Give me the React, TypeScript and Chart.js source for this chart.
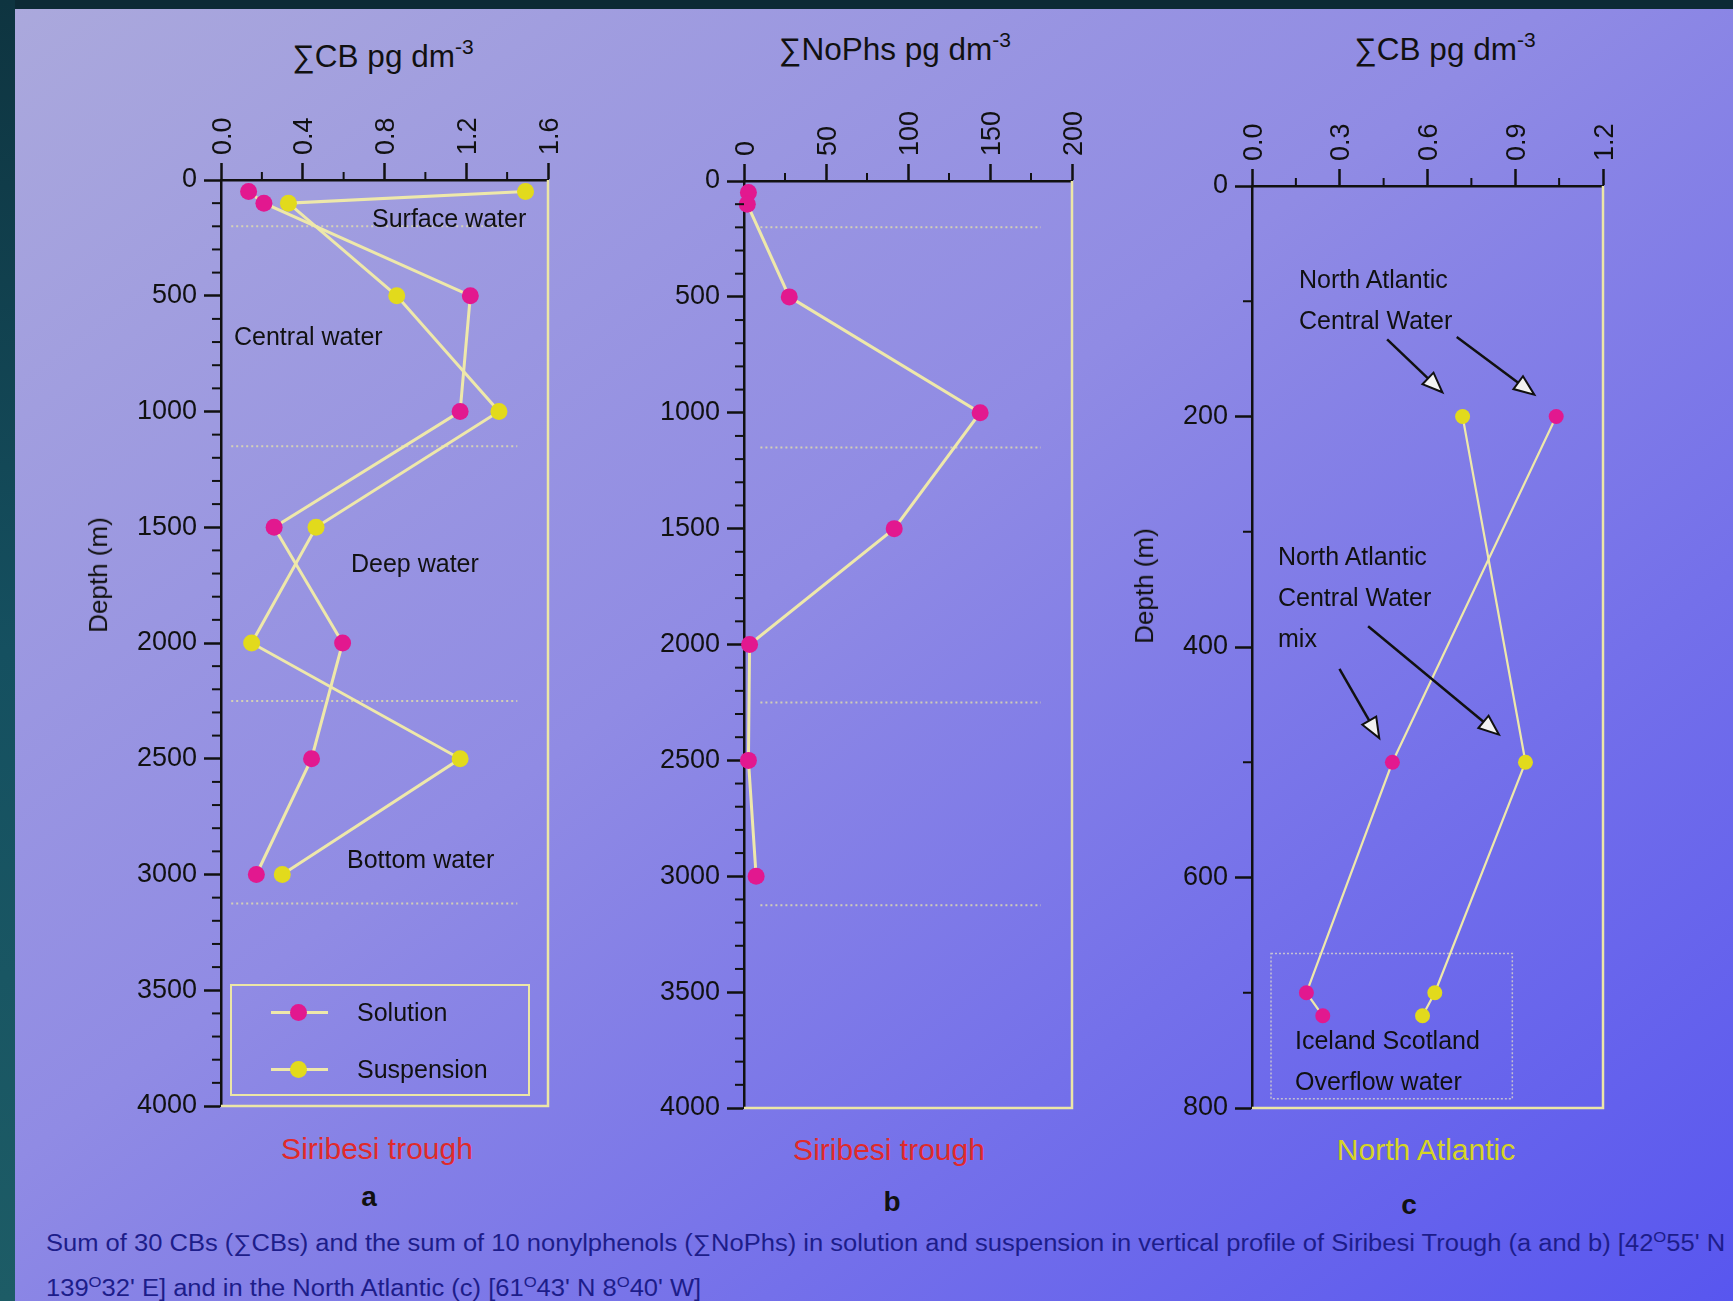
import React, { useEffect, useRef } from "react";
import { Chart, registerables } from "chart.js";

Chart.register(...registerables);

const FONT = '"Liberation Sans", Arial, Helvetica, sans-serif';
const SOLUTION_COLOR = "#e2188f";
const SUSPENSION_COLOR = "#e2da1c";
const LINE_COLOR = "#eee8aa";
const FRAME_COLOR = "#ece6a6";
const AXIS_COLOR = "#111111";
const TICK_FONT_SIZE = 27;

// ---------- Panel a : ΣCB, Siribesi trough ----------
const depthA = [50, 100, 500, 1000, 1500, 2000, 2500, 3000];
const cbSolutionA = [0.135, 0.21, 1.22, 1.17, 0.26, 0.595, 0.443, 0.173];
const cbSuspensionA = [1.49, 0.33, 0.86, 1.36, 0.465, 0.15, 1.17, 0.3];

// ---------- Panel b : ΣNoPhs, Siribesi trough ----------
const depthB = [50, 100, 500, 1000, 1500, 2000, 2500, 3000];
const nophSolutionB = [2.7, 2, 27.6, 144, 91.6, 3.4, 2.7, 7.4];

// ---------- Panel c : ΣCB, North Atlantic ----------
const depthC = [200, 500, 700, 720];
const cbSolutionC = [1.04, 0.48, 0.186, 0.242];
const cbSuspensionC = [0.72, 0.935, 0.625, 0.583];

// water mass boundaries (depth, m) drawn as dotted lines in a and b
const waterMassBoundaries = [200, 1150, 2250, 3125];
// Iceland Scotland Overflow water box in c: [x0, x1, depth0, depth1]
const overflowBoxC = [0.065, 0.89, 666, 792];
// annotation arrows in c: [xFrom, depthFrom, xTo, depthTo]
const arrowsC = [
  [0.462, 133, 0.651, 179],
  [0.7, 131, 0.965, 181],
  [0.299, 419, 0.435, 479],
  [0.397, 382, 0.844, 476],
];

const LEFT_W = 110;
const TOP_H = 100;
const PAD_R = 24;
const PAD_B = 24;
const TICK_LEN = 17;

type Series = { x: number[]; y: number[]; color: string };
type Panel = {
  left: number;
  top: number;
  width: number;
  height: number;
  xMax: number;
  xStep: number;
  xDecimals: number;
  yMax: number;
  yStep: number;
  yMinor: number;
  series: Series[];
  lineWidth: number;
  radius: number;
  separators?: { values: number[]; x0: number; x1: number };
  box?: number[];
  arrows?: number[][];
};

const panels: Panel[] = [
  {
    left: 221, top: 180, width: 327, height: 926,
    xMax: 1.6, xStep: 0.4, xDecimals: 1,
    yMax: 4000, yStep: 500, yMinor: 100,
    series: [
      { x: cbSolutionA, y: depthA, color: SOLUTION_COLOR },
      { x: cbSuspensionA, y: depthA, color: SUSPENSION_COLOR },
    ],
    lineWidth: 3, radius: 8.5,
    separators: { values: waterMassBoundaries, x0: 0.05, x1: 1.45 },
  },
  {
    left: 744, top: 181, width: 328, height: 927,
    xMax: 200, xStep: 50, xDecimals: 0,
    yMax: 4000, yStep: 500, yMinor: 100,
    series: [{ x: nophSolutionB, y: depthB, color: SOLUTION_COLOR }],
    lineWidth: 3, radius: 8.5,
    separators: { values: waterMassBoundaries, x0: 10, x1: 181 },
  },
  {
    left: 1252, top: 186, width: 351, height: 922,
    xMax: 1.2, xStep: 0.3, xDecimals: 1,
    yMax: 800, yStep: 200, yMinor: 100,
    series: [
      { x: cbSolutionC, y: depthC, color: SOLUTION_COLOR },
      { x: cbSuspensionC, y: depthC, color: SUSPENSION_COLOR },
    ],
    lineWidth: 2.2, radius: 7.5,
    box: overflowBoxC,
    arrows: arrowsC,
  },
];

function isMajor(v: number, step: number) {
  const r = v / step;
  return Math.abs(r - Math.round(r)) < 1e-6;
}

function decorPlugin(p: Panel) {
  return {
    id: "decor",
    beforeDatasetsDraw(chart: any) {
      const { ctx, chartArea: a, scales } = chart;
      const xs = scales.x;
      const ys = scales.y;
      ctx.save();
      if (p.separators) {
        ctx.strokeStyle = "rgba(222,218,175,0.85)";
        ctx.lineWidth = 2;
        ctx.setLineDash([2, 3]);
        for (const v of p.separators.values) {
          const y = ys.getPixelForValue(v);
          ctx.beginPath();
          ctx.moveTo(xs.getPixelForValue(p.separators.x0), y);
          ctx.lineTo(xs.getPixelForValue(p.separators.x1), y);
          ctx.stroke();
        }
        ctx.setLineDash([]);
      }
      if (p.box) {
        const [x0, x1, d0, d1] = p.box;
        ctx.strokeStyle = "rgba(225,222,200,0.75)";
        ctx.lineWidth = 1.5;
        ctx.setLineDash([2, 2]);
        const px0 = xs.getPixelForValue(x0);
        const px1 = xs.getPixelForValue(x1);
        const py0 = ys.getPixelForValue(d0);
        const py1 = ys.getPixelForValue(d1);
        ctx.strokeRect(px0, py0, px1 - px0, py1 - py0);
        ctx.setLineDash([]);
      }
      ctx.strokeStyle = FRAME_COLOR;
      ctx.lineWidth = 2.5;
      ctx.beginPath();
      ctx.moveTo(a.right, a.top);
      ctx.lineTo(a.right, a.bottom);
      ctx.lineTo(a.left, a.bottom);
      ctx.stroke();
      ctx.restore();
    },
    afterDatasetsDraw(chart: any) {
      if (!p.arrows) return;
      const { ctx, scales } = chart;
      const xs = scales.x;
      const ys = scales.y;
      ctx.save();
      for (const [xa, ya, xb, yb] of p.arrows) {
        const x0 = xs.getPixelForValue(xa);
        const y0 = ys.getPixelForValue(ya);
        const x1 = xs.getPixelForValue(xb);
        const y1 = ys.getPixelForValue(yb);
        const ang = Math.atan2(y1 - y0, x1 - x0);
        const L = 20;
        const W = 8;
        const bx = x1 - L * Math.cos(ang);
        const by = y1 - L * Math.sin(ang);
        ctx.strokeStyle = "#111";
        ctx.lineWidth = 2.5;
        ctx.beginPath();
        ctx.moveTo(x0, y0);
        ctx.lineTo(bx, by);
        ctx.stroke();
        ctx.beginPath();
        ctx.moveTo(x1, y1);
        ctx.lineTo(bx + W * Math.sin(ang), by - W * Math.cos(ang));
        ctx.lineTo(bx - W * Math.sin(ang), by + W * Math.cos(ang));
        ctx.closePath();
        ctx.fillStyle = "#f2f2f2";
        ctx.fill();
        ctx.lineWidth = 2;
        ctx.stroke();
      }
      ctx.restore();
    },
    afterDraw(chart: any) {
      const { ctx, chartArea: a, scales } = chart;
      const xs = scales.x;
      const ys = scales.y;
      ctx.save();
      // minor ticks
      ctx.strokeStyle = AXIS_COLOR;
      ctx.lineWidth = 2;
      for (let v = p.yMinor; v < p.yMax; v += p.yMinor) {
        if (isMajor(v, p.yStep)) continue;
        const y = ys.getPixelForValue(v);
        ctx.beginPath();
        ctx.moveTo(a.left - 9, y);
        ctx.lineTo(a.left, y);
        ctx.stroke();
      }
      for (let v = p.xStep / 2; v < p.xMax; v += p.xStep) {
        const x = xs.getPixelForValue(v);
        ctx.beginPath();
        ctx.moveTo(x, a.top - 8);
        ctx.lineTo(x, a.top);
        ctx.stroke();
      }
      // rotated top tick labels, centred on their ticks
      ctx.fillStyle = "#111";
      ctx.font = `${TICK_FONT_SIZE}px ${FONT}`;
      ctx.textAlign = "left";
      ctx.textBaseline = "alphabetic";
      for (const t of xs.ticks) {
        const x = xs.getPixelForValue(t.value);
        ctx.save();
        ctx.translate(x, a.top - TICK_LEN - 8);
        ctx.rotate(-Math.PI / 2);
        ctx.fillText(Number(t.value).toFixed(p.xDecimals), 0, 0.358 * TICK_FONT_SIZE);
        ctx.restore();
      }
      ctx.restore();
    },
  };
}

function buildConfig(p: Panel): any {
  const lineSets = p.series.map((s) => ({
    data: s.x.map((v, i) => ({ x: v, y: s.y[i] })),
    showLine: true,
    borderColor: LINE_COLOR,
    borderWidth: p.lineWidth,
    pointRadius: 0,
    order: 2,
    clip: false,
  }));
  const pointSets = p.series.map((s) => ({
    data: s.x.map((v, i) => ({ x: v, y: s.y[i] })),
    showLine: false,
    pointRadius: p.radius,
    pointBackgroundColor: s.color,
    pointBorderColor: s.color,
    pointBorderWidth: 0,
    order: 1,
    clip: false,
  }));
  const tickFont = { family: FONT, size: TICK_FONT_SIZE };
  const grid = {
    drawOnChartArea: false,
    drawTicks: true,
    tickLength: TICK_LEN,
    tickColor: AXIS_COLOR,
    tickWidth: 2.5,
    color: AXIS_COLOR,
  };
  const border = { display: true, color: AXIS_COLOR, width: 2.5 };
  return {
    type: "scatter",
    data: { datasets: [...lineSets, ...pointSets] },
    options: {
      animation: false,
      responsive: false,
      maintainAspectRatio: false,
      events: [],
      layout: { padding: { left: 0, top: 0, right: PAD_R, bottom: PAD_B } },
      plugins: { legend: { display: false }, tooltip: { enabled: false } },
      scales: {
        x: {
          type: "linear",
          position: "top",
          min: 0,
          max: p.xMax,
          ticks: {
            display: false,
            stepSize: p.xStep,
            autoSkip: false,
          },
          grid,
          border,
          afterFit: (s: any) => {
            s.height = TOP_H;
          },
        },
        y: {
          type: "linear",
          reverse: true,
          min: 0,
          max: p.yMax,
          ticks: {
            stepSize: p.yStep,
            autoSkip: false,
            color: "#111",
            padding: 7,
            font: tickFont,
            callback: (v: any) => String(Math.round(Number(v))),
          },
          grid,
          border,
          afterFit: (s: any) => {
            s.width = LEFT_W;
          },
        },
      },
    },
    plugins: [decorPlugin(p)],
  };
}

function PanelChart({ p }: { p: Panel }) {
  const ref = useRef<HTMLCanvasElement>(null);
  useEffect(() => {
    const chart = new Chart(ref.current as HTMLCanvasElement, buildConfig(p));
    return () => chart.destroy();
  }, [p]);
  const cw = LEFT_W + p.width + PAD_R;
  const ch = TOP_H + p.height + PAD_B;
  return (
    <canvas
      ref={ref}
      width={cw}
      height={ch}
      style={{ position: "absolute", left: p.left - LEFT_W, top: p.top - TOP_H, width: cw, height: ch }}
    />
  );
}

function Txt(props: {
  x: number;
  y: number;
  size: number;
  children: any;
  color?: string;
  center?: boolean;
  weight?: number;
  rotate?: number;
}) {
  const { x, y, size, children, color = "#111", center = false, weight = 400, rotate = 0 } = props;
  return (
    <div
      style={{
        position: "absolute",
        left: x,
        top: y,
        transform: `translate(${center ? "-50%" : "0"}, -50%) rotate(${rotate}deg)`,
        fontFamily: FONT,
        fontSize: size,
        color,
        fontWeight: weight,
        whiteSpace: "nowrap",
        lineHeight: 1.15,
      }}
    >
      {children}
    </div>
  );
}

const Sup = ({ children, size = 21, top = -13 }: any) => (
  <span style={{ fontSize: size, position: "relative", top }}>{children}</span>
);

function Caption({ y, children }: { y: number; children: any }) {
  return (
    <div
      style={{
        position: "absolute",
        left: 46,
        top: y,
        transform: "translateY(-50%) scaleX(1.11)",
        transformOrigin: "left center",
        fontFamily: FONT,
        fontSize: 23,
        color: "#1d1d8a",
        whiteSpace: "nowrap",
        lineHeight: 1.15,
      }}
    >
      {children}
    </div>
  );
}

function LegendRow({ y, color, label }: { y: number; color: string; label: string }) {
  return (
    <>
      <div style={{ position: "absolute", left: 271, top: y - 1.5, width: 57, height: 3, background: LINE_COLOR }} />
      <div
        style={{
          position: "absolute",
          left: 298 - 8.5,
          top: y - 8.5,
          width: 17,
          height: 17,
          borderRadius: "50%",
          background: color,
        }}
      />
      <Txt x={357} y={y} size={25}>
        {label}
      </Txt>
    </>
  );
}

export default function App() {
  const deg = (
    <Sup size={15} top={-9}>
      O
    </Sup>
  );
  return (
    <div
      style={{
        position: "absolute",
        left: 0,
        top: 0,
        width: 1733,
        height: 1301,
        overflow: "hidden",
        background: "linear-gradient(to bottom right, #aba9dc 0%, #908be4 45%, #7470ea 72%, #5856ef 100%)",
      }}
    >
      <div style={{ position: "absolute", left: 0, top: 0, width: 1733, height: 9, background: "#0c2a35" }} />
      <div
        style={{
          position: "absolute",
          left: 0,
          top: 0,
          width: 15,
          height: 1301,
          background: "linear-gradient(to bottom, #0e3440, #155060 50%, #1d5c66)",
        }}
      />

      {panels.map((p, i) => (
        <PanelChart key={i} p={p} />
      ))}

      {/* axis titles */}
      <Txt x={383} y={56} size={31.5} center>
        ∑CB pg dm<Sup>-3</Sup>
      </Txt>
      <Txt x={895} y={49} size={31.5} center>
        ∑NoPhs pg dm<Sup>-3</Sup>
      </Txt>
      <Txt x={1445} y={49} size={31.5} center>
        ∑CB pg dm<Sup>-3</Sup>
      </Txt>
      <Txt x={99} y={575} size={26} center rotate={-90}>
        Depth (m)
      </Txt>
      <Txt x={1145} y={586} size={26} center rotate={-90}>
        Depth (m)
      </Txt>

      {/* panel a annotations */}
      <Txt x={372} y={218} size={25}>Surface water</Txt>
      <Txt x={234} y={336} size={25}>Central water</Txt>
      <Txt x={351} y={563} size={25}>Deep water</Txt>
      <Txt x={347} y={859} size={25}>Bottom water</Txt>

      {/* legend */}
      <div
        style={{
          position: "absolute",
          left: 230,
          top: 984,
          width: 300,
          height: 112,
          border: `2px solid ${FRAME_COLOR}`,
          boxSizing: "border-box",
        }}
      />
      <LegendRow y={1012} color={SOLUTION_COLOR} label="Solution" />
      <LegendRow y={1069} color={SUSPENSION_COLOR} label="Suspension" />

      {/* panel c annotations */}
      <Txt x={1299} y={279} size={25}>North Atlantic</Txt>
      <Txt x={1299} y={320} size={25}>Central Water</Txt>
      <Txt x={1278} y={556} size={25}>North Atlantic</Txt>
      <Txt x={1278} y={597} size={25}>Central Water</Txt>
      <Txt x={1278} y={638} size={25}>mix</Txt>
      <Txt x={1295} y={1040} size={25}>Iceland Scotland</Txt>
      <Txt x={1295} y={1081} size={25}>Overflow water</Txt>

      {/* location labels */}
      <Txt x={377} y={1149} size={30} color="#e02a2a" center>Siribesi trough</Txt>
      <Txt x={889} y={1150} size={30} color="#e02a2a" center>Siribesi trough</Txt>
      <Txt x={1426} y={1150} size={30} color="#d6d424" center>North Atlantic</Txt>
      <Txt x={369} y={1197} size={28} weight={700} center>a</Txt>
      <Txt x={892} y={1202} size={28} weight={700} center>b</Txt>
      <Txt x={1409} y={1205} size={28} weight={700} center>c</Txt>

      {/* caption */}
      <Caption y={1243}>
        Sum of 30 CBs (∑CBs) and the sum of 10 nonylphenols (∑NoPhs) in solution and suspension in vertical profile of
        Siribesi Trough (a and b) [42{deg}55' N
      </Caption>
      <Caption y={1288}>
        139{deg}32' E] and in the North Atlantic (c) [61{deg}43' N 8{deg}40' W]
      </Caption>
    </div>
  );
}
